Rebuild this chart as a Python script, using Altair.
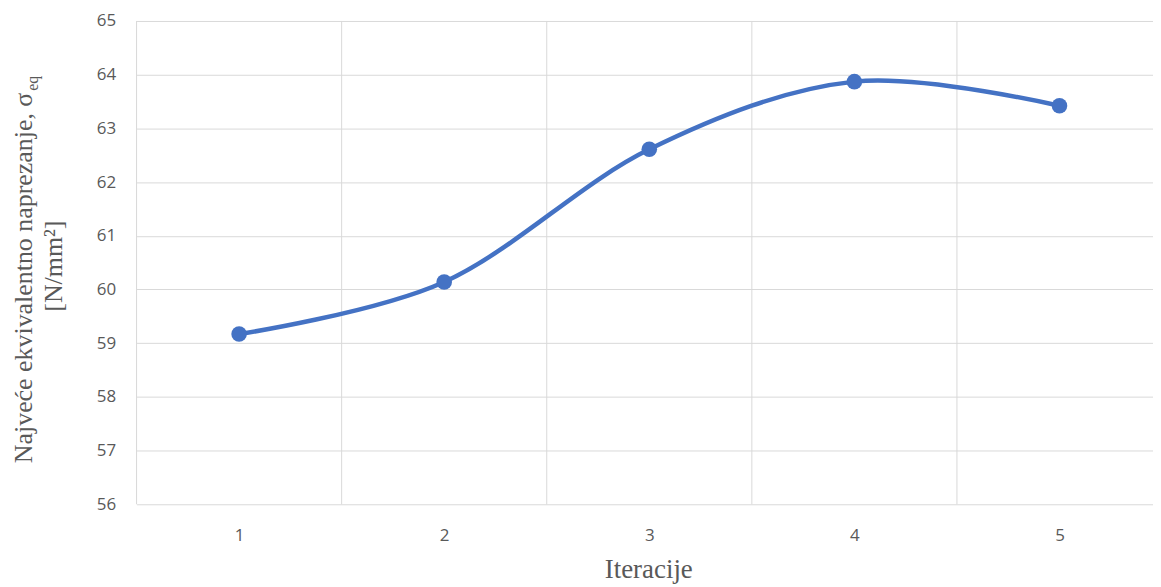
import altair as alt
import pandas as pd

iterations = [1, 2, 3, 4, 5]
stress = [59.17, 60.14, 62.61, 63.87, 63.42]
y_ticks = [56, 57, 58, 59, 60, 61, 62, 63, 64, 65]
x_bounds = [0.5, 1.5, 2.5, 3.5, 4.5]

y_title_main = "Najveće ekvivalentno naprezanje, σ"
y_title_sub = "eq"
y_title_unit = "[N/mm²]"
x_title = "Iteracije"

W, H = 1020, 485
BLUE = "#4472C4"
GRAY = "#595959"
GRID = "#d9d9d9"
SERIF = "Liberation Serif"
SANS = "Open Sans"

df = pd.DataFrame({"it": iterations, "s": stress})
grid_df = pd.DataFrame({"b": x_bounds})

x_scale = alt.Scale(domain=[0.5, 5.456], nice=False, zero=False)
y_scale = alt.Scale(domain=[56, 65], nice=False, zero=False)

x_axis = alt.Axis(values=iterations, title=None, grid=False, domain=False, ticks=False,
                  tickSize=0, labelPadding=23, labelFont=SANS, labelFontSize=17,
                  labelColor=GRAY, format="d")
y_axis = alt.Axis(values=y_ticks, title=None, grid=True, gridColor=GRID, gridWidth=1,
                  domain=False, ticks=False, tickSize=0, labelPadding=21, labelFont=SANS,
                  labelFontSize=17, labelColor=GRAY, format="d")

vgrid = alt.Chart(grid_df).mark_rule(color=GRID, strokeWidth=1).encode(
    x=alt.X("b:Q", scale=x_scale, axis=x_axis),
    y=alt.value(0),
    y2=alt.value(H),
)

line = alt.Chart(df).mark_line(interpolate="cardinal", color=BLUE, strokeWidth=4.5).encode(
    x=alt.X("it:Q", scale=x_scale, axis=x_axis),
    y=alt.Y("s:Q", scale=y_scale, axis=y_axis),
)

points = alt.Chart(df).mark_circle(size=245, color=BLUE, opacity=1).encode(
    x=alt.X("it:Q", scale=x_scale, axis=x_axis),
    y=alt.Y("s:Q", scale=y_scale, axis=y_axis),
)

one = pd.DataFrame({"k": [0]})

t_main = alt.Chart(one).mark_text(text=y_title_main, angle=270, align="right",
                                  baseline="alphabetic", font=SERIF, fontSize=26,
                                  color=GRAY).encode(x=alt.value(-104.5), y=alt.value(72))
t_sub = alt.Chart(one).mark_text(text=y_title_sub, angle=270, align="left",
                                 baseline="alphabetic", font=SERIF, fontSize=16,
                                 color=GRAY).encode(x=alt.value(-99), y=alt.value(70))
t_unit = alt.Chart(one).mark_text(text=y_title_unit, angle=270, align="center",
                                  baseline="alphabetic", font=SERIF, fontSize=26,
                                  color=GRAY).encode(x=alt.value(-74.5), y=alt.value(246))
t_x = alt.Chart(one).mark_text(text=x_title, align="center", baseline="alphabetic",
                               font=SERIF, fontSize=27, color=GRAY).encode(
    x=alt.value(514), y=alt.value(559))

chart = alt.layer(vgrid, line, points, t_main, t_sub, t_unit, t_x).properties(
    width=W, height=H,
    autosize=alt.AutoSizeParams(type="none"),
    padding={"left": 129, "top": 12, "right": 0, "bottom": 79},
    background="white",
).configure_view(stroke=None)

chart.save("out.html", embed_options={"renderer": "svg", "actions": False})
